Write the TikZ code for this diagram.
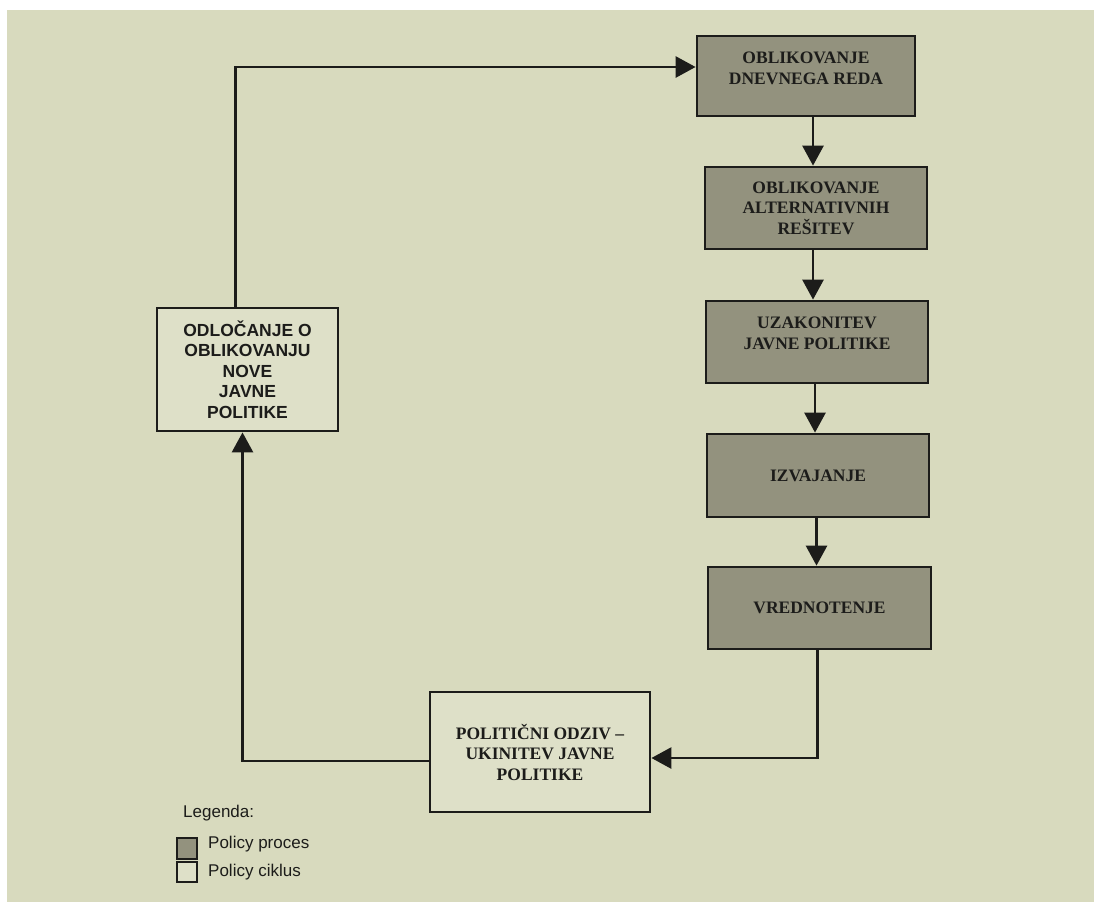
\documentclass[tikz,border=0pt]{standalone}
\usepackage{fontspec}
\setmainfont{Liberation Serif}
\newfontfamily\arialf{Liberation Sans}
\usetikzlibrary{arrows.meta}
\definecolor{paper}{RGB}{216,218,190}
\definecolor{boxgray}{RGB}{147,146,126}
\definecolor{ink}{RGB}{28,28,26}
\tikzset{
  proc/.style={draw=ink, line width=2.8pt, fill=boxgray, inner sep=0pt, align=center,
    font=\fontsize{17.5}{20.5}\selectfont\bfseries, text=ink},
  cyc/.style={draw=ink, line width=2.8pt, fill=paper!85!white, inner sep=0pt, align=center, text=ink},
  arr/.style={draw=ink, line width=2.8pt, -{Triangle[width=21pt,length=20pt]}},
  legtxt/.style={font=\arialf\fontsize{17}{20}\selectfont, text=ink, anchor=west, inner sep=0pt}
}
\begin{document}
\begin{tikzpicture}[x=1pt,y=-1pt]
\useasboundingbox (0,0) rectangle (1099,906);
\fill[white] (0,0) rectangle (1099,906);
\fill[paper] (7,10) rectangle (1094,902);
% process boxes
\node[proc, minimum width=218pt, minimum height=80pt, text depth=16pt] (b1) at (806,76) {OBLIKOVANJE\\DNEVNEGA REDA};
\node[proc, minimum width=222pt, minimum height=82pt] (b2) at (816,208) {OBLIKOVANJE\\ALTERNATIVNIH\\REŠITEV};
\node[proc, minimum width=222pt, minimum height=82pt, text depth=18pt] (b3) at (817,342) {UZAKONITEV\\JAVNE POLITIKE};
\node[proc, minimum width=222pt, minimum height=83pt] (b4) at (818,475.5) {IZVAJANJE};
\node[proc, minimum width=223pt, minimum height=82pt] (b5) at (819.5,608) {VREDNOTENJE};
% cycle boxes
\node[cyc, minimum width=181pt, minimum height=123pt, font=\arialf\fontsize{17.5}{20.5}\selectfont\bfseries] (d) at (247.5,369.5) {ODLOČANJE O\\OBLIKOVANJU\\NOVE\\JAVNE\\POLITIKE};
\node[cyc, minimum width=220pt, minimum height=120pt, font=\fontsize{17.5}{20.5}\selectfont\bfseries] (p) at (540,752) {POLITIČNI ODZIV –\\UKINITEV JAVNE\\POLITIKE};
% connectors
\draw[arr] ([xshift=-3pt]b1.south -| b2.north) -- ([xshift=-3pt]b2.north);
\draw[arr] ([xshift=-4pt]b2.south -| b3.north) -- ([xshift=-4pt]b3.north);
\draw[arr] ([xshift=-3pt]b3.south -| b4.north) -- ([xshift=-3pt]b4.north);
\draw[arr] ([xshift=-3pt]b4.south -| b5.north) -- ([xshift=-3pt]b5.north);
\draw[arr] ([xshift=-2pt]b5.south) |- ([yshift=-6pt]p.east);
\draw[arr] ([yshift=-9pt]p.west) -| ([xshift=-5pt]d.south);
\draw[arr] ([xshift=-12pt]d.north) |- ([yshift=9pt]b1.west);
% legend
\node[legtxt] (lg) at (183,813) {Legenda:};
\node[draw=ink, line width=1.5pt, fill=boxgray, minimum width=20pt, minimum height=21pt, inner sep=0pt] (s1) at (187,848.5) {};
\node[draw=ink, line width=1.5pt, fill=paper!85!white, minimum width=20pt, minimum height=20pt, inner sep=0pt] (s2) at (187,872) {};
\node[legtxt] (l1) at (208,844) {Policy proces};
\node[legtxt] (l2) at (208,872) {Policy ciklus};
\end{tikzpicture}
\end{document}
